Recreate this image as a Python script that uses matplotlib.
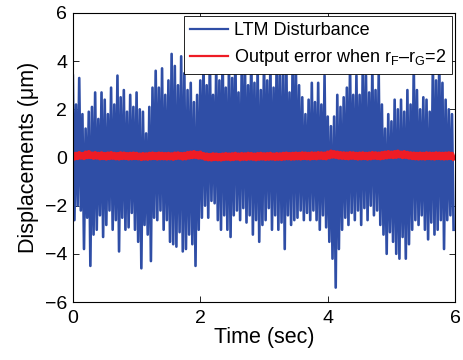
import numpy as np
import matplotlib
matplotlib.use("Agg")
import matplotlib.pyplot as plt

plt.rcParams['font.family'] = ['Liberation Sans', 'DejaVu Sans']
plt.rcParams['mathtext.fontset'] = 'custom'
plt.rcParams['mathtext.rm'] = 'Liberation Sans'

# LTM disturbance: spike tops (t = 0, 0.05, ... 5.95) and bottoms (half step later)
dist_upper = [
    3.4, 2.2, 3.3, 1.8, 1.2, 1.9, 2.1, 2.7, 1.6, 2.7,
    2.4, 1.8, 2.9, 2.2, 3.4, 2.5, 2.8, 1.9, 2.6, 2.1,
    2.7, 2.0, 1.9, 1.0, 2.1, 2.9, 3.6, 2.9, 3.7, 2.6,
    3.2, 4.3, 3.8, 3.0, 4.2, 3.5, 2.8, 3.1, 2.3, 2.6,
    3.2, 4.1, 3.0, 4.4, 2.6, 3.9, 3.2, 4.6, 2.9, 4.0,
    3.3, 4.5, 2.7, 3.8, 4.2, 3.0, 4.6, 3.1, 3.9, 2.8,
    4.3, 3.2, 4.0, 2.9, 4.7, 3.4, 3.8, 4.1, 2.7, 4.4,
    3.8, 3.0, 2.5, 1.8, 2.4, 3.1, 2.3, 3.1, 2.2, 3.4,
    1.7, 1.3, 1.7, 2.6, 2.1, 2.5, 2.9, 3.9, 2.6, 3.4,
    2.6, 4.0, 3.4, 2.7, 3.8, 2.8, 3.5, 2.2, 1.2, 1.8,
    1.5, 2.4, 2.0, 2.4, 1.9, 2.8, 2.2, 3.9, 2.8, 2.0,
    2.5, 2.4, 1.9, 4.0, 3.2, 4.1, 3.1, 2.4, 2.0, 1.8,
]
dist_lower = [
    -2.6, -2.0, -2.2, -3.8, -2.5, -4.5, -3.2, -3.0, -2.4, -3.3,
    -2.8, -2.2, -3.0, -2.6, -3.9, -2.5, -3.0, -2.9, -2.3, -3.0,
    -3.5, -4.6, -2.8, -3.2, -4.3, -2.5, -2.6, -2.2, -3.0, -2.6,
    -3.5, -3.6, -3.7, -3.1, -3.9, -3.8, -3.2, -3.6, -4.5, -3.0,
    -2.5, -2.0, -2.5, -1.8, -1.9, -2.6, -3.0, -2.4, -3.0, -3.3,
    -2.4, -2.2, -2.6, -2.1, -2.7, -2.4, -3.2, -2.6, -3.5, -2.8,
    -2.6, -2.1, -3.0, -2.4, -3.0, -2.7, -3.8, -2.4, -2.8, -2.6,
    -2.5, -2.2, -2.6, -2.3, -2.6, -2.2, -2.6, -3.0, -2.4, -2.9,
    -3.5, -4.2, -5.4, -3.8, -3.0, -2.5, -2.8, -2.3, -2.6, -2.2,
    -2.8, -2.1, -2.6, -2.0, -2.4, -2.2, -2.8, -3.2, -4.0, -3.1,
    -3.5, -4.0, -4.2, -3.3, -4.2, -3.6, -3.0, -2.6, -2.8, -2.4,
    -3.0, -3.4, -2.7, -3.2, -3.0, -2.6, -3.8, -2.6, -2.4, -3.0,
]

# output error: tops (t = 0, 0.05, ... 5.95) and bottoms
err_upper = [
    0.12, 0.15, 0.18, 0.14, 0.2, 0.22, 0.16, 0.18, 0.15, 0.17,
    0.14, 0.16, 0.18, 0.15, 0.14, 0.17, 0.16, 0.14, 0.15, 0.16,
    0.15, 0.12, 0.14, 0.13, 0.15, 0.16, 0.14, 0.16, 0.15, 0.14,
    0.15, 0.13, 0.16, 0.17, 0.14, 0.15, 0.18, 0.2, 0.22, 0.18,
    0.2, 0.14, 0.12, 0.1, 0.13, 0.12, 0.1, 0.12, 0.14, 0.12,
    0.13, 0.15, 0.12, 0.14, 0.13, 0.15, 0.14, 0.12, 0.14, 0.15,
    0.13, 0.14, 0.15, 0.12, 0.14, 0.13, 0.15, 0.16, 0.14, 0.15,
    0.16, 0.15, 0.17, 0.16, 0.15, 0.17, 0.16, 0.18, 0.17, 0.16,
    0.2, 0.24, 0.22, 0.2, 0.18, 0.17, 0.16, 0.18, 0.17, 0.15,
    0.16, 0.17, 0.15, 0.16, 0.18, 0.17, 0.16, 0.18, 0.2, 0.22,
    0.2, 0.22, 0.24, 0.2, 0.22, 0.19, 0.17, 0.16, 0.15, 0.16,
    0.15, 0.17, 0.16, 0.15, 0.17, 0.16, 0.15, 0.16, 0.17, 0.15,
]
err_lower = [
    -0.04, -0.02, 0.0, -0.02, 0.02, 0.02, -0.01, 0.0, -0.03, -0.02,
    -0.04, -0.02, -0.01, -0.03, -0.04, -0.02, -0.02, -0.04, -0.03, -0.02,
    -0.03, -0.06, -0.04, -0.05, -0.03, -0.02, -0.04, -0.03, -0.03, -0.04,
    -0.03, -0.05, -0.02, -0.01, -0.04, -0.03, 0.0, 0.02, 0.03, 0.0,
    0.0, -0.05, -0.07, -0.08, -0.06, -0.07, -0.08, -0.06, -0.05, -0.07,
    -0.06, -0.04, -0.07, -0.05, -0.06, -0.04, -0.05, -0.07, -0.05, -0.04,
    -0.06, -0.05, -0.04, -0.06, -0.05, -0.06, -0.04, -0.03, -0.05, -0.04,
    -0.03, -0.04, -0.02, -0.03, -0.04, -0.02, -0.03, -0.01, -0.02, -0.03,
    0.01, 0.04, 0.03, 0.0, -0.01, -0.02, -0.03, -0.01, -0.02, -0.04,
    -0.03, -0.02, -0.04, -0.03, -0.01, -0.02, -0.03, -0.01, 0.01, 0.03,
    0.02, 0.03, 0.05, 0.02, 0.03, 0.0, -0.02, -0.03, -0.04, -0.03,
    -0.04, -0.02, -0.03, -0.04, -0.02, -0.03, -0.04, -0.03, -0.02, -0.04,
]


def zigzag(upper, lower, t_end):
    n = len(upper)
    step = t_end / n
    t = np.empty(2 * n)
    y = np.empty(2 * n)
    t[0::2] = np.arange(n) * step
    t[1::2] = np.arange(n) * step + step / 2
    y[0::2] = upper
    y[1::2] = lower
    return t, y


t_d, y_d = zigzag(dist_upper, dist_lower, 6.0)
t_e, y_e = zigzag(err_upper, err_lower, 6.0)

fig = plt.figure(figsize=(4.64, 3.6), dpi=100)
ax = fig.add_axes([0.157, 0.161, 0.824, 0.803])

ax.plot(t_d, y_d, color='#2f4ea6', lw=1.9, label='LTM Disturbance')
ax.plot(t_e, y_e, color='#ee1c25', lw=3.2,
        label=r'Output error when r$_\mathregular{F}$–r$_\mathregular{G}$=2')

ax.set_xlim(0, 6)
ax.set_ylim(-6, 6)
ax.set_xticks([0, 2, 4, 6])
ax.set_yticks([-6, -4, -2, 0, 2, 4, 6])
ax.tick_params(direction='in', top=True, right=True, labelsize=14, length=4, width=0.6)
ax.tick_params(axis='x', pad=6)
ax.tick_params(axis='y', pad=4)
for s in ax.spines.values():
    s.set_linewidth(0.8)

ax.set_xlabel('Time (sec)', fontsize=15.5, labelpad=0)
ax.set_ylabel('Displacements (μm)', fontsize=15.5, labelpad=4)

leg = ax.legend(loc='upper right', fontsize=13, handlelength=2.1, fancybox=False,
                framealpha=1, edgecolor='black', borderaxespad=0.15,
                borderpad=0.35, labelspacing=0.45, handletextpad=0.3)
leg.get_frame().set_linewidth(0.6)
for line in leg.get_lines():
    line.set_linewidth(1.6)

fig.savefig('out.png', dpi=100)
